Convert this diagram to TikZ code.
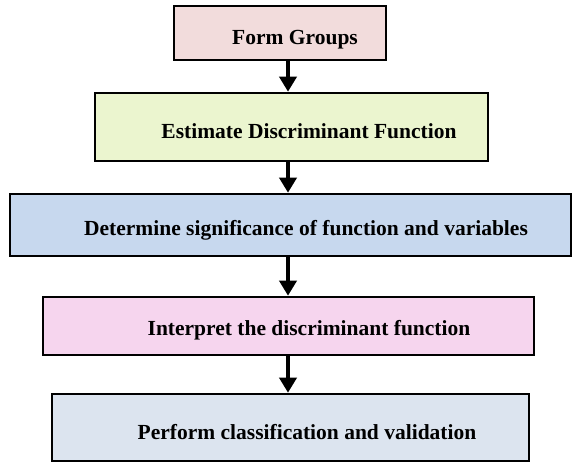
\documentclass[tikz,border=0pt]{standalone}
\usepackage{fontspec}
\setmainfont{Liberation Serif}
\usetikzlibrary{arrows.meta}

\definecolor{boxA}{HTML}{F2DCDC}
\definecolor{boxB}{HTML}{EBF5CF}
\definecolor{boxC}{HTML}{C7D8EE}
\definecolor{boxD}{HTML}{F6D5EE}
\definecolor{boxE}{HTML}{DCE4EF}

\tikzset{
  x=1pt, y=-1pt,
  stepbox/.style={draw=black, line width=2.6pt, rectangle, inner sep=0pt},
  steptext/.style={font=\bfseries\fontsize{21.5}{24}\selectfont, inner sep=0pt, anchor=center},
  flow/.style={line width=3.6pt, -{Triangle[width=17pt,length=15pt]}}
}

\begin{document}
\begin{tikzpicture}
  \useasboundingbox (0,0) rectangle (572,463);

  % step boxes
  \node[stepbox, fill=boxA, minimum width=212pt, minimum height=54pt] (b1) at (280,33) {};
  \node[stepbox, fill=boxB, minimum width=393pt, minimum height=68pt] (b2) at (291.5,127) {};
  \node[stepbox, fill=boxC, minimum width=561pt, minimum height=62pt] (b3) at (290.5,225) {};
  \node[stepbox, fill=boxD, minimum width=491pt, minimum height=58pt] (b4) at (288.5,326) {};
  \node[stepbox, fill=boxE, minimum width=477pt, minimum height=67pt] (b5) at (290.5,427.5) {};

  % step labels
  \node[steptext] (t1) at (295,40) {Form Groups};
  \node[steptext] (t2) at (309,131) {Estimate Discriminant Function};
  \node[steptext] (t3) at (306,230) {Determine significance of function and variables};
  \node[steptext] (t4) at (309,330) {Interpret the discriminant function};
  \node[steptext] (t5) at (307,432) {Perform classification and validation};

  % arrows share one vertical axis
  \coordinate (axis) at (288,0);
  \draw[flow] (b1.south -| axis) -- (b2.north -| axis);
  \draw[flow] (b2.south -| axis) -- (b3.north -| axis);
  \draw[flow] (b3.south -| axis) -- (b4.north -| axis);
  \draw[flow] (b4.south -| axis) -- (b5.north -| axis);
\end{tikzpicture}
\end{document}
